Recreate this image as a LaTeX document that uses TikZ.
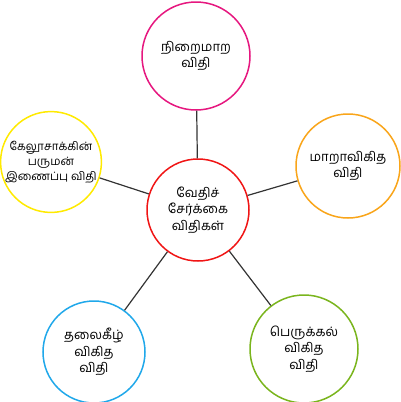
\documentclass[tikz,border=0pt]{standalone}
\usepackage{fontspec}
\newfontfamily\tamilfont[Script=Tamil]{Hind Madurai}
\definecolor{rulepink}{HTML}{E6177F}
\definecolor{ruleyellow}{HTML}{FFEA00}
\definecolor{ruleorange}{HTML}{F9A51A}
\definecolor{rulered}{HTML}{F01515}
\definecolor{ruleblue}{HTML}{20A8EA}
\definecolor{rulegreen}{HTML}{7AB51D}
\begin{document}
\begin{tikzpicture}[x=1pt,y=-1pt,
  law/.style={circle, draw=#1, line width=1.5pt, fill=white, inner sep=0pt,
    align=center, font=\tamilfont\fontsize{13}{16.5}\selectfont},
  link/.style={draw=black!80, line width=1.2pt}]
\useasboundingbox (0,0) rectangle (400,402);
% Centre circle
\node[law=rulered, minimum size=102pt] (centre) at (198,210) {வேதிச்\\சேர்க்கை\\விதிகள்};
% Outer circles
\node[law=rulepink, minimum size=108pt] (top) at (196,56) {நிறைமாற\\விதி};
\node[law=ruleyellow, minimum size=96pt,
  font=\tamilfont\fontsize{11.5}{15}\selectfont] (left) at (51,162) {கேலூசாக்கின்\\பருமன்\\இணைப்பு விதி};
\node[law=ruleorange, minimum size=104pt] (right) at (348,166) {மாறாவிகித\\விதி};
\node[law=ruleblue, minimum size=102pt] (lowleft) at (94,352) {தலைகீழ்\\விகித\\விதி};
\node[law=rulegreen, minimum size=108pt] (lowright) at (304,349) {பெருக்கல்\\விகித\\விதி};
% Spokes
\draw[link] (centre) -- (top);
\draw[link] (centre) -- (left);
\draw[link] (centre) -- (right);
\draw[link] (centre) -- (lowleft);
\draw[link] (centre) -- (lowright);
\end{tikzpicture}
\end{document}
